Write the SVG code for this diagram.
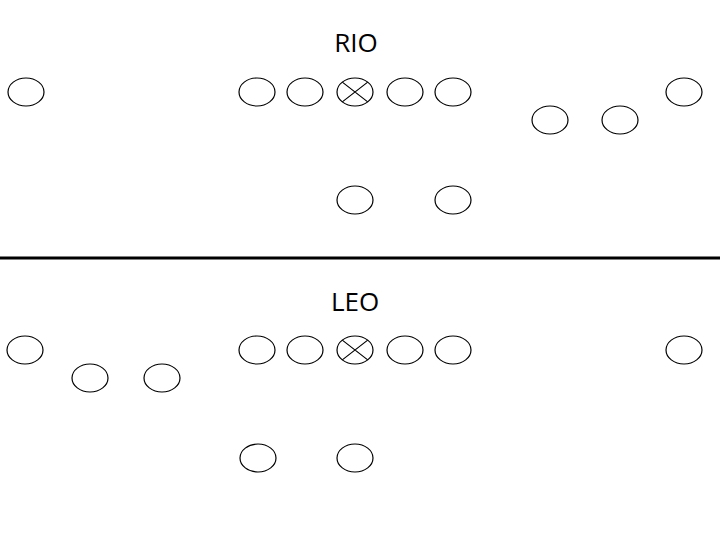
<svg xmlns="http://www.w3.org/2000/svg" width="720" height="540" viewBox="0 0 720 540">
<defs>
<style>
.p{fill:none;stroke:#000;stroke-width:1.2}
.t{font-family:"Open Sans","Liberation Sans",sans-serif;font-size:26px;fill:#000;text-anchor:middle}
</style>
<ellipse id="pl" class="p" cx="0" cy="0" rx="18" ry="14"/>
</defs>
<rect width="720" height="540" fill="#fff"/>
<text class="t" x="356" y="52">RIO</text>
<text class="t" x="355" y="311">LEO</text>
<g id="connectors">
<line x1="0" y1="258" x2="720" y2="258" stroke="#000" stroke-width="3"/>
</g>
<g id="rio">
<g id="r1"><use href="#pl" x="26" y="92"/></g>
<g id="r2"><use href="#pl" x="257" y="92"/></g>
<g id="r3"><use href="#pl" x="305" y="92"/></g>
<g id="r4"><use href="#pl" x="355" y="92"/><path class="p" d="M342.3 82.1L367.7 101.9M342.3 101.9L367.7 82.1"/></g>
<g id="r5"><use href="#pl" x="405" y="92"/></g>
<g id="r6"><use href="#pl" x="453" y="92"/></g>
<g id="r7"><use href="#pl" x="550" y="120"/></g>
<g id="r8"><use href="#pl" x="620" y="120"/></g>
<g id="r9"><use href="#pl" x="684" y="92"/></g>
<g id="r10"><use href="#pl" x="355" y="200"/></g>
<g id="r11"><use href="#pl" x="453" y="200"/></g>
</g>
<g id="leo">
<g id="l1"><use href="#pl" x="25" y="350"/></g>
<g id="l2"><use href="#pl" x="90" y="378"/></g>
<g id="l3"><use href="#pl" x="162" y="378"/></g>
<g id="l4"><use href="#pl" x="257" y="350"/></g>
<g id="l5"><use href="#pl" x="305" y="350"/></g>
<g id="l6"><use href="#pl" x="355" y="350"/><path class="p" d="M342.3 340.1L367.7 359.9M342.3 359.9L367.7 340.1"/></g>
<g id="l7"><use href="#pl" x="405" y="350"/></g>
<g id="l8"><use href="#pl" x="453" y="350"/></g>
<g id="l9"><use href="#pl" x="684" y="350"/></g>
<g id="l10"><use href="#pl" x="258" y="458"/></g>
<g id="l11"><use href="#pl" x="355" y="458"/></g>
</g>
</svg>
